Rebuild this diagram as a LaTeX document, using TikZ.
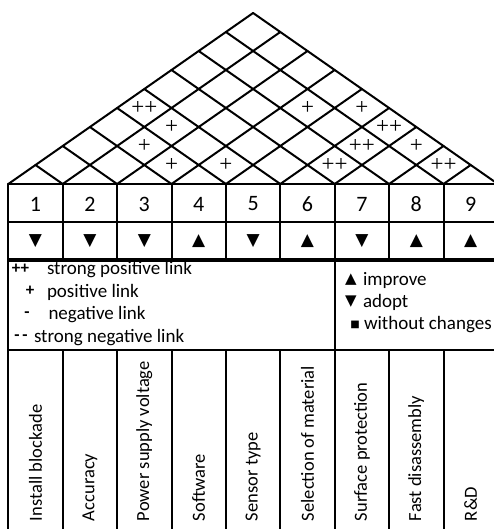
\documentclass[tikz,border=0pt]{standalone}
\usepackage{fontspec}
\setmainfont{Carlito}
\newfontfamily\symf{DejaVu Sans}
\newfontfamily\serf{Liberation Serif}
\begin{document}
\begin{tikzpicture}[x=1pt,y=-1pt,line width=2pt,line cap=round,line join=round,
  num/.style={font=\fontsize{22}{26}\selectfont},
  tri/.style={font=\symf\fontsize{17}{18}\selectfont, inner sep=0pt},
  legtxt/.style={font=\fontsize{19}{22}\selectfont, anchor=west, inner sep=0pt},
  legsym/.style={font=\bfseries\fontsize{17}{18}\selectfont, inner sep=0pt},
  lab/.style={font=\fontsize{18.5}{20}\selectfont, rotate=90, anchor=west, inner sep=0pt},
  corr/.style={font=\serf\fontsize{23}{23}\selectfont, inner sep=0pt}]
\def\xl{8.3}\def\cw{54.4}\def\rh{19}\def\yb{184}\def\xr{497.9}
\useasboundingbox (0,0) rectangle (494,529);
% roof grid
\foreach \k in {0,...,9}{
  \pgfmathsetmacro\bx{\xl+\k*\cw}
  \pgfmathsetmacro\rx{\xl+(\k+9)*\cw/2}
  \pgfmathsetmacro\ry{\yb-(9-\k)*\rh}
  \pgfmathsetmacro\lx{\xl+\k*\cw/2}
  \pgfmathsetmacro\ly{\yb-\k*\rh}
  \draw (\bx,\yb) -- (\rx,\ry);
  \draw (\bx,\yb) -- (\lx,\ly);
}
% correlation marks
\foreach \i/\j/\s in {1/5/2,2/5/1,2/4/1,3/4/1,4/5/1,4/8/1,5/9/1,6/9/2,6/8/2,7/9/1,6/7/2,8/9/2}{
  \pgfmathsetmacro\mx{\xl+(\i+\j-1)*\cw/2}
  \pgfmathsetmacro\my{\yb-(\j-\i)*\rh}
  \node[corr] (m\i\j) at (\mx,\my) {\ifnum\s=2 ++\else +\fi};
}
% table lines
\draw (\xl,\yb) -- (\xr,\yb);
\draw (\xl,222) -- (\xr,222);
\draw[line width=3.8pt,line cap=butt] (\xl,260) -- (\xr,260);
\draw (\xl,350) -- (\xr,350);
\draw (\xl,\yb) -- (\xl,540);
\foreach \k in {1,...,8}{
  \pgfmathsetmacro\bx{\xl+\k*\cw}
  \draw (\bx,\yb) -- (\bx,260);
  \draw (\bx,350) -- (\bx,540);
}
\draw (334.7,260) -- (334.7,350);
% numbers and direction symbols
\foreach \k/\d in {1/0,2/0,3/0,4/1,5/0,6/1,7/0,8/1,9/1}{
  \pgfmathsetmacro\cx{\xl+(\k-0.5)*\cw}
  \node[num] (n\k) at (\cx,204) {\k};
  \node[tri] (t\k) at (\cx,241) {\ifnum\d=0 ▼\else ▲\fi};
}
% legend left
\node[legsym] (s1) at (20.5,269) {++};
\node[legtxt] (l1) at (46,270) {strong positive link};
\node[legsym] (s2) at (30,291) {+};
\node[legtxt] (l2) at (46,292) {positive link};
\node[legsym] (s3) at (27,315) {-};
\node[legtxt] (l3) at (47.5,315) {negative link};
\node[legsym] (s4) at (21,338) {-\,-};
\node[legtxt] (l4) at (33,338) {strong negative link};
% legend right
\node[tri,font=\symf\fontsize{15}{16}\selectfont] (r1) at (351,280) {▲};
\node[legtxt] (q1) at (362,280) {improve};
\node[tri,font=\symf\fontsize{15}{16}\selectfont] (r2) at (351,302) {▼};
\node[legtxt] (q2) at (362,302) {adopt};
\node[tri,font=\symf\fontsize{10}{11}\selectfont] (r3) at (355,325) {■};
\node[legtxt] (q3) at (363,325) {without changes};
% labels
\foreach \k/\t in {1/Install blockade,2/Accuracy,3/Power supply voltage,4/Software,5/Sensor type,6/Selection of material,7/Surface protection,8/Fast disassembly,9/R\&D}{
  \pgfmathsetmacro\cx{\xl+(\k-0.5)*\cw}
  \node[lab] (c\k) at (\cx,522) {\t};
}
\end{tikzpicture}
\end{document}
